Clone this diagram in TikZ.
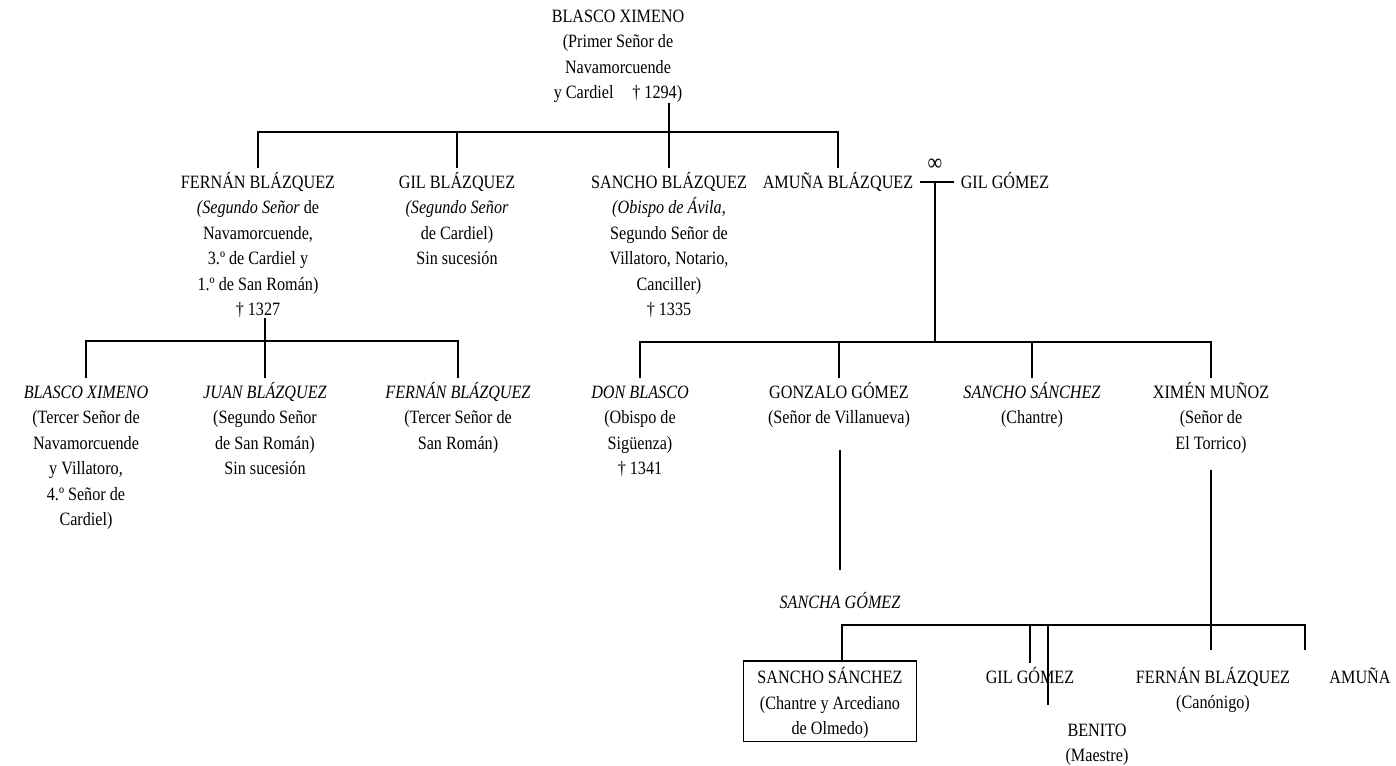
\documentclass[tikz,border=0pt]{standalone}
\usepackage{fontspec}
\setmainfont[FakeStretch=0.86]{Liberation Serif}
\newcommand\tallstrut{\rule{0pt}{10pt}}
\begin{document}
\begin{tikzpicture}[x=0.5pt,y=-0.5pt,
  person/.style={align=center,inner sep=0pt,anchor=north,
    font=\fontsize{9.4}{12.7}\selectfont},
  link/.style={line width=0.6pt},
  boxed/.style={draw,line width=0.8pt,inner xsep=7pt,inner ysep=1.5pt},
  marriage/.style={inner sep=0pt,font=\fontsize{12}{12}\selectfont}]
\useasboundingbox (0,0) rectangle (1396,765);
% generation 1
\node[person] (top) at (618,2) {\tallstrut BLASCO XIMENO\\(Primer Señor de\\Navamorcuende\\y Cardiel\quad † 1294)};
% generation 2
\node[person] (fernan1) at (258,168) {\tallstrut FERNÁN BLÁZQUEZ\\\textit{(Segundo Señor} de\\Navamorcuende,\\3.º de Cardiel y\\1.º de San Román)\\† 1327};
\node[person] (gil1) at (457,168) {\tallstrut GIL BLÁZQUEZ\\\textit{(Segundo Señor}\\de Cardiel)\\Sin sucesión};
\node[person] (sancho1) at (669,168) {\tallstrut SANCHO BLÁZQUEZ\\\textit{(Obispo de Ávila},\\Segundo Señor de\\Villatoro, Notario,\\Canciller)\\† 1335};
\node[person] (amuna1) at (838,168) {\tallstrut AMUÑA BLÁZQUEZ};
\node[person] (gilgomez1) at (1005,168) {\tallstrut GIL GÓMEZ};
\node[marriage] (inf) at (935,165) {∞};
\coordinate (wed) at (935,182);
% generation 3
\node[person] (blasco2) at (86,378) {\tallstrut\textit{BLASCO XIMENO}\\(Tercer Señor de\\Navamorcuende\\y Villatoro,\\4.º Señor de\\Cardiel)};
\node[person] (juan) at (265,378) {\tallstrut\textit{JUAN BLÁZQUEZ}\\(Segundo Señor\\de San Román)\\Sin sucesión};
\node[person] (fernan2) at (458,378) {\tallstrut\textit{FERNÁN BLÁZQUEZ}\\(Tercer Señor de\\San Román)};
\node[person] (donblasco) at (640,378) {\tallstrut\textit{DON BLASCO}\\(Obispo de\\Sigüenza)\\† 1341};
\node[person] (gonzalo) at (839,378) {\tallstrut GONZALO GÓMEZ\\(Señor de Villanueva)};
\node[person] (sancho2) at (1032,378) {\tallstrut\textit{SANCHO SÁNCHEZ}\\(Chantre)};
\node[person] (ximen) at (1211,378) {\tallstrut XIMÉN MUÑOZ\\(Señor de\\El Torrico)};
% generation 4
\node[person] (sancha) at (840,588) {\tallstrut\textit{SANCHA GÓMEZ}};
% generation 5
\node[person,boxed] (sancho3) at (830,660) {\tallstrut SANCHO SÁNCHEZ\\(Chantre y Arcediano\\de Olmedo)};
\node[person] (gilgomez2) at (1030,663) {\tallstrut GIL GÓMEZ};
\node[person] (fernan3) at (1213,663) {\tallstrut FERNÁN BLÁZQUEZ\\(Canónigo)};
\node[person] (amuna2) at (1360,663) {\tallstrut AMUÑA};
\node[person] (benito) at (1097,716) {\tallstrut BENITO\\(Maestre)};
\coordinate (sanchoEnd) at (842,660);
\coordinate (benitoEnd) at (1048,705);
\coordinate (amunaEnd) at (1305,650);
% bar heights
\coordinate (bar1) at (0,132);
\coordinate (bar2) at (0,341);
\coordinate (bar3) at (0,342);
\coordinate (bar4) at (0,625);
% connectors generation 1 -> 2
\draw[link] (sancho1.north |- top.south) -- (sancho1.north);
\draw[link] (fernan1.north) |- (amuna1.north |- bar1) -- (amuna1.north);
\draw[link] (gil1.north) -- (gil1.north |- bar1);
% marriage
\draw[link,shorten <=3pt,shorten >=3pt] (amuna1.east |- wed) -- (gilgomez1.west |- wed);
\draw[link] (wed) -- (wed |- bar3);
% Fernan's children
\draw[link] (juan.north |- fernan1.south) -- (juan.north);
\draw[link] (blasco2.north) |- (fernan2.north |- bar2) -- (fernan2.north);
% Amuna's children
\draw[link] (donblasco.north) |- (ximen.north |- bar3) -- (ximen.north);
\draw[link] (gonzalo.north) -- (gonzalo.north |- bar3);
\draw[link] (sancho2.north) -- (sancho2.north |- bar3);
% Gonzalo -> Sancha
\draw[link,shorten <=11pt,shorten >=9pt] (sancha.north |- gonzalo.south) -- (sancha.north);
% Sancha & Ximen's children
\draw[link,shorten <=8pt,shorten >=6.5pt] (ximen.south) -- (ximen.south |- fernan3.north);
\draw[link] (sanchoEnd) |- (amunaEnd |- bar4) -- (amunaEnd);
\draw[link] (gilgomez2.north) -- (gilgomez2.north |- bar4);
\draw[link] (benitoEnd |- bar4) -- (benitoEnd);
\end{tikzpicture}
\end{document}
